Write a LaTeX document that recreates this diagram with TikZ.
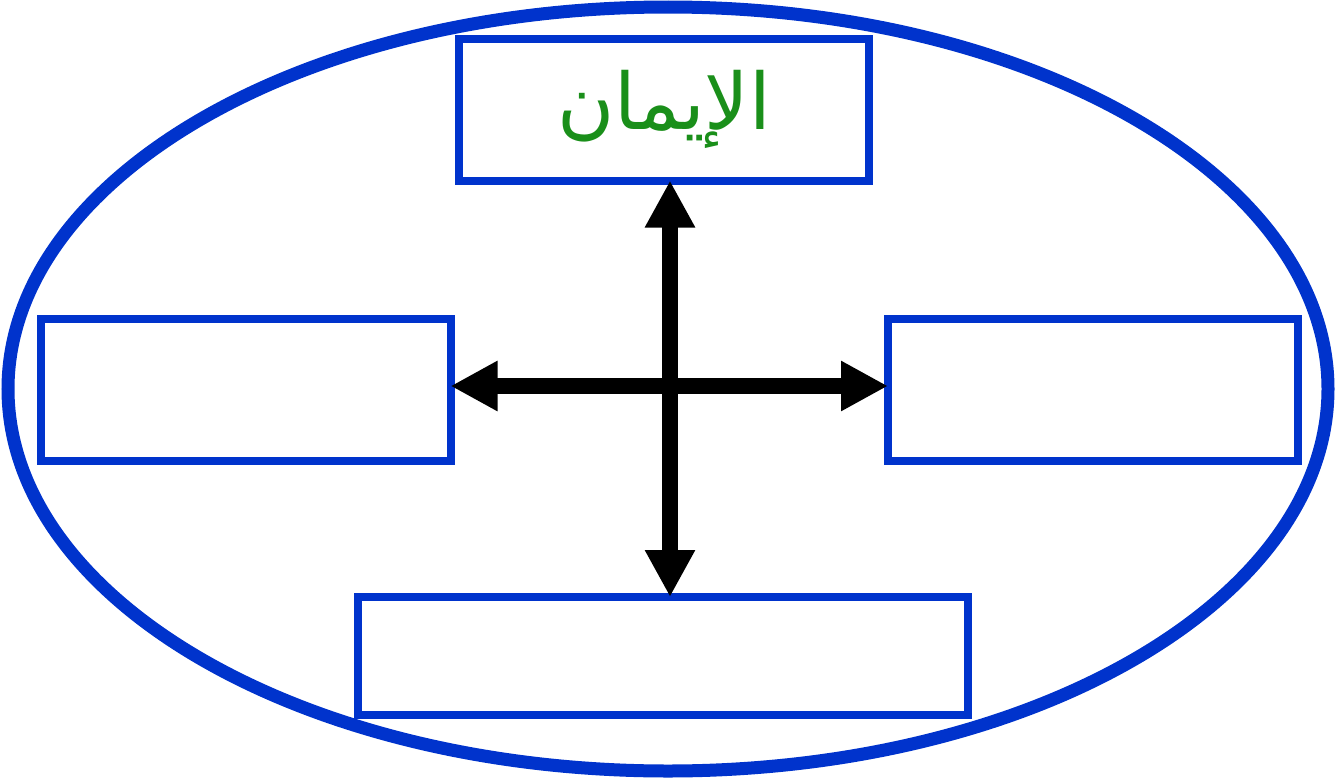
\documentclass[tikz,border=0pt]{standalone}
\usepackage{fontspec}
\newfontfamily\arabicfont[Script=Arabic]{DejaVu Sans}
\TeXXeTstate=1
\usetikzlibrary{arrows.meta}
\definecolor{frameblue}{RGB}{0,51,204}
\definecolor{faithgreen}{RGB}{26,143,26}

\begin{document}
\begin{tikzpicture}[x=1pt,y=-1pt]

    \tikzset{
      box/.style={
        draw=frameblue,
        line width=8pt,
        fill=white,
        inner sep=0pt,
        outer sep=0pt,
        minimum width=410pt,
        minimum height=142pt,
      },
      link/.style={
        line width=16pt,
        {Triangle[length=47pt,width=47pt]}-{Triangle[length=47pt,width=47pt]},
      },
    }
    \useasboundingbox (0,0) rectangle (1336,779);
    \draw[color=frameblue,line width=13pt] (668,389) ellipse [x radius=660, y radius=382];

	\node[box] (faith) at (664,109.5) {\color{faithgreen}\fontsize{78}{80}\selectfont\arabicfont\beginR الإيمان\endR};
	\node[box] (west) at (245.5,389.5) {};
	\node[box] (east) at (1093,389.5) {};
	\node[box,minimum width=610pt,minimum height=118pt] (south) at (663,656) {};

	\coordinate (hub) at (670,386);
	\draw[link] (hub |- faith.south)--(hub |- south.north);
	\draw[link] (west.east |- hub)--(east.west |- hub);

\end{tikzpicture}
\end{document}
